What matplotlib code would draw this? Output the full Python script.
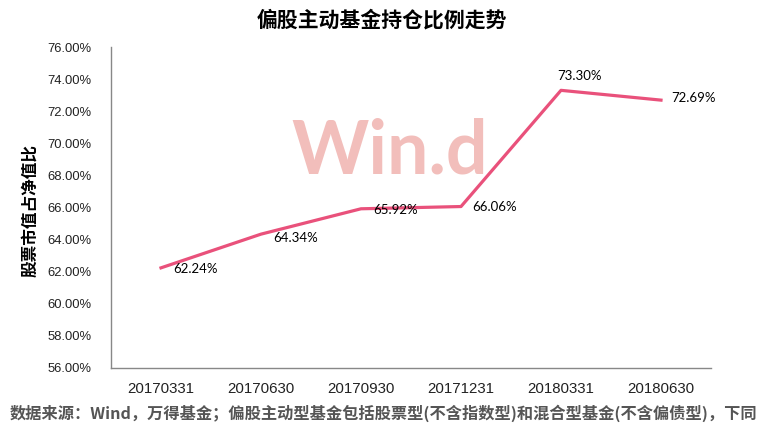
import matplotlib
matplotlib.use("Agg")
import matplotlib.pyplot as plt
from matplotlib.ticker import FuncFormatter, MultipleLocator

# data
dates = ['20170331', '20170630', '20170930', '20171231', '20180331', '20180630']
ratio = [62.24, 64.34, 65.92, 66.06, 73.30, 72.69]
# label offsets in pixels (dx, dy)
label_off = [(12, -1), (12, -4), (12, -1), (11, 0), (18, 14), (10, 2)]

cjk = ['Noto Sans CJK SC', 'DejaVu Sans']
plt.rcParams['font.family'] = cjk

fig = plt.figure(figsize=(7.64, 4.30), dpi=100)
ax = fig.add_axes([111 / 764, (430 - 368) / 430, 600 / 764, 321 / 430])

x = list(range(len(dates)))
ax.plot(x, ratio, color='#e9517b', lw=2.3, zorder=3)

for i, v in enumerate(ratio):
    dx, dy = label_off[i]
    ha = 'center' if i == 4 else 'left'
    ax.annotate('%.2f%%' % v, (x[i], v), xytext=(dx, dy),
                textcoords='offset pixels', ha=ha, va='center',
                fontsize=9.5, family=['Lato', 'DejaVu Sans'], color='black', zorder=4)

# watermark
fig.text(390 / 764, 1 - 152 / 430, 'Win.d', ha='center', va='center',
         fontsize=53, fontweight='bold', color='#f2bebb', family=['Lato', 'DejaVu Sans'],
         zorder=0)

ax.set_xlim(-0.5, len(dates) - 0.5)
ax.set_ylim(56, 76)
ax.yaxis.set_major_locator(MultipleLocator(2))
ax.yaxis.set_major_formatter(FuncFormatter(lambda v, p: '%.2f%%' % v))
ax.set_xticks(x)
ax.set_xticklabels(dates)
ax.tick_params(length=0, colors='#222222')
ax.tick_params(axis='x', labelsize=10.8, pad=10)
ax.tick_params(axis='y', labelsize=9.4, pad=14)
for lab in ax.get_xticklabels() + ax.get_yticklabels():
    lab.set_family(['Liberation Sans', 'DejaVu Sans'])

ax.patch.set_alpha(0)
for s in ['top', 'right']:
    ax.spines[s].set_visible(False)
for s in ['left', 'bottom']:
    ax.spines[s].set_color('#888888')
    ax.spines[s].set_linewidth(1)

ax.set_ylabel('股票市值占净值比', fontsize=12, fontweight='bold')
ax.yaxis.set_label_coords(-72 / 600, 0.49)

fig.text(0.5, 1 - 20 / 430, '偏股主动基金持仓比例走势', ha='center', va='center',
         fontsize=15, fontweight='bold')
fig.text(10 / 764, 1 - 413 / 430,
         '数据来源：Wind，万得基金；偏股主动型基金包括股票型(不含指数型)和混合型基金(不含偏债型)，下同',
         ha='left', va='center', fontsize=11.7, fontweight='bold', color='#555555')

fig.savefig('out.png', dpi=100)
